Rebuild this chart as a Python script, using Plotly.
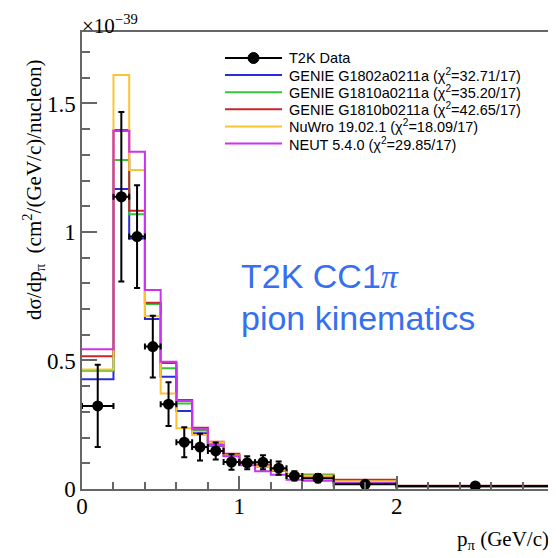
import plotly.graph_objects as go

# ---------------- data ----------------
bin_edges = [0.0, 0.2, 0.3, 0.4, 0.5, 0.6, 0.7, 0.8, 0.9, 1.0, 1.1, 1.2, 1.3, 1.4, 1.6, 2.0, 3.0]

data_y = [0.323, 1.137, 0.982, 0.554, 0.330, 0.182, 0.163, 0.148, 0.105, 0.102,
          0.104, 0.081, 0.051, 0.042, 0.018, 0.012]
data_err = [0.160, 0.330, 0.200, 0.120, 0.085, 0.058, 0.052, 0.033, 0.030, 0.025,
            0.027, 0.026, 0.018, 0.016, 0.006, 0.004]

genie_1802a = [0.427, 1.167, 0.975, 0.661, 0.437, 0.303, 0.217, 0.168, 0.128, 0.100,
               0.088, 0.070, 0.055, 0.050, 0.024, 0.010]
genie_1810a = [0.460, 1.280, 1.069, 0.720, 0.470, 0.333, 0.228, 0.178, 0.132, 0.102,
               0.090, 0.072, 0.057, 0.056, 0.030, 0.011]
genie_1810b = [0.516, 1.397, 1.083, 0.725, 0.490, 0.346, 0.238, 0.184, 0.137, 0.105,
               0.092, 0.073, 0.058, 0.052, 0.036, 0.013]
nuwro = [0.465, 1.611, 1.241, 0.673, 0.372, 0.236, 0.210, 0.182, 0.130, 0.100,
         0.088, 0.072, 0.058, 0.052, 0.030, 0.012]
neut = [0.544, 1.393, 1.312, 0.774, 0.495, 0.342, 0.232, 0.171, 0.127, 0.092,
        0.069, 0.055, 0.036, 0.032, 0.022, 0.011]

model_names = [
    "GENIE G1802a0211a (χ<sup>2</sup>=32.71/17)",
    "GENIE G1810a0211a (χ<sup>2</sup>=35.20/17)",
    "GENIE G1810b0211a (χ<sup>2</sup>=42.65/17)",
    "NuWro 19.02.1 (χ<sup>2</sup>=18.09/17)",
    "NEUT 5.4.0 (χ<sup>2</sup>=29.85/17)",
]
model_values = [genie_1802a, genie_1810a, genie_1810b, nuwro, neut]
model_colors = ["#2b2bdd", "#33c63a", "#c8282d", "#fcc335", "#cc33ee"]
data_name = "T2K Data"

# ---------------- figure geometry ----------------
# the page body has an 8px margin, so the figure is drawn 8px smaller/shifted
OFF = 8
W, H = 556 - OFF, 558 - OFF
PLOT_L, PLOT_R, PLOT_T, PLOT_B = 82, 554, 32, 489   # in window pixels
ML = PLOT_L - OFF
MT = PLOT_T - OFF
MR = (W + OFF) - PLOT_R
MB = (H + OFF) - PLOT_B
PW, PH = PLOT_R - PLOT_L, PLOT_B - PLOT_T
Y_MAX = 1.778

centers = [(bin_edges[i] + bin_edges[i + 1]) / 2 for i in range(len(bin_edges) - 1)]
half_w = [(bin_edges[i + 1] - bin_edges[i]) / 2 for i in range(len(bin_edges) - 1)]

fig = go.Figure()

for name, vals, col in zip(model_names, model_values, model_colors):
    fig.add_trace(go.Scatter(
        x=bin_edges, y=list(vals) + [vals[-1]],
        mode="lines", line=dict(color=col, width=2, shape="hv"),
        name=name, showlegend=False, hoverinfo="skip"))

fig.add_trace(go.Scatter(
    x=centers, y=data_y, mode="markers", name=data_name, showlegend=False,
    marker=dict(color="black", size=11),
    error_y=dict(type="data", array=data_err, color="black", thickness=2, width=3),
    error_x=dict(type="data", array=half_w, color="black", thickness=2, width=3)))

# ---------------- manual legend ----------------
def px2x(px):
    return (px - PLOT_L) / PW

def py2y(py):
    return (PLOT_B - py) / PH

leg_top = 58
leg_step = 17.1
leg_x0, leg_x1, leg_text = 225, 282, 287
shapes = []
annotations = []
labels = [data_name] + model_names
colors = ["black"] + model_colors
for i, (lab, col) in enumerate(zip(labels, colors)):
    yy = py2y(leg_top + i * leg_step)
    shapes.append(dict(type="line", xref="paper", yref="paper",
                       x0=px2x(leg_x0), x1=px2x(leg_x1), y0=yy, y1=yy,
                       line=dict(color=col, width=2)))
    if i == 0:
        shapes.append(dict(type="circle", xref="paper", yref="paper",
                           xsizemode="pixel", ysizemode="pixel",
                           xanchor=px2x((leg_x0 + leg_x1) / 2), yanchor=yy,
                           x0=-5.5, x1=5.5, y0=-5.5, y1=5.5,
                           fillcolor="black", line=dict(color="black", width=1)))
    annotations.append(dict(text=lab, xref="paper", yref="paper",
                            x=px2x(leg_text), y=yy, xanchor="left", yanchor="middle",
                            showarrow=False,
                            font=dict(family="Liberation Sans, Arial", size=14.5, color="black")))

# ---------------- texts ----------------
serif = "Liberation Serif, Times New Roman, serif"
annotations += [
    dict(text="T2K CC1<span style=\"font-family:'Liberation Serif'\"><i>π</i></span>",
         xref="paper", yref="paper", x=px2x(239), y=py2y(276),
         xanchor="left", yanchor="middle", showarrow=False,
         font=dict(family="Liberation Sans, Arial", size=34, color="#3670ee")),
    dict(text="pion kinematics",
         xref="paper", yref="paper", x=px2x(239), y=py2y(318),
         xanchor="left", yanchor="middle", showarrow=False,
         font=dict(family="Liberation Sans, Arial", size=34, color="#3670ee")),
    dict(text="×10<sup>−39</sup>", xref="paper", yref="paper",
         x=px2x(80), y=py2y(24), xanchor="left", yanchor="middle", showarrow=False,
         font=dict(family=serif, size=21, color="black")),
    dict(text="p<sub>π</sub> (GeV/c)", xref="paper", yref="paper",
         x=px2x(551), y=py2y(540), xanchor="right", yanchor="middle", showarrow=False,
         font=dict(family=serif, size=21, color="black")),
    dict(text="dσ/dp<sub>π</sub>  (cm<sup>2</sup>/(GeV/c)/nucleon)", xref="paper", yref="paper",
         x=px2x(33), y=py2y(190), xanchor="center", yanchor="middle", showarrow=False,
         textangle=-90,
         font=dict(family=serif, size=21, color="black")),
]

axis_common = dict(showline=True, linecolor="#666666", linewidth=1.5, mirror=True,
                   showgrid=False, zeroline=False, ticks="inside", tickcolor="#666666",
                   tickwidth=1.5, automargin=False, ticklabeloverflow="allow",
                   tickfont=dict(family=serif, size=23, color="black"))

fig.update_layout(
    width=W, height=H,
    margin=dict(l=ML, r=MR, t=MT, b=MB, pad=0),
    paper_bgcolor="white", plot_bgcolor="white",
    showlegend=False,
    xaxis=dict(range=[0, 3], tickvals=[0, 1, 2, 3], ticklen=13, ticklabelstandoff=-4,
               minor=dict(dtick=0.2, ticks="inside", ticklen=7, tickcolor="#666666", tickwidth=1.5),
               **axis_common),
    yaxis=dict(range=[0, Y_MAX], tickvals=[0, 0.5, 1, 1.5], ticktext=["0", "0.5", "1", "1.5"],
               ticklen=15,
               minor=dict(dtick=0.1, ticks="inside", ticklen=8, tickcolor="#666666", tickwidth=1.5),
               **axis_common),
    shapes=shapes, annotations=annotations,
)

fig.write_html("out.html")
